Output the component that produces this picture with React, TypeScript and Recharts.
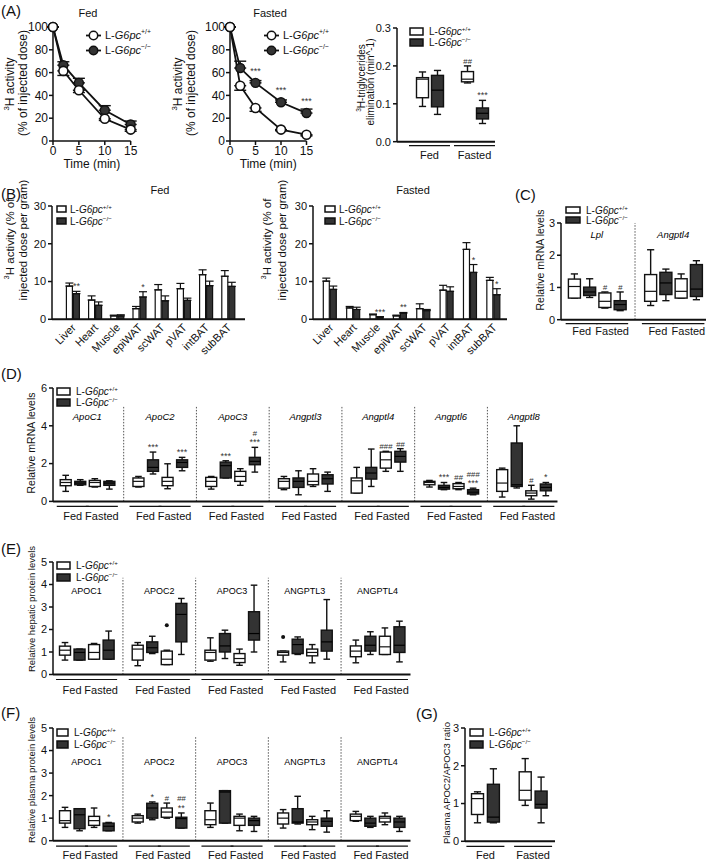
import React from 'react';
import {
  ComposedChart,
  LineChart,
  BarChart,
  Line,
  Bar,
  XAxis,
  YAxis,
  ErrorBar,
  ReferenceLine,
  ReferenceArea,
  LabelList,
} from 'recharts';

// min, q1, median, q3, max
type Box = [number, number, number, number, number];

const FONT = '"Liberation Sans", Arial, Helvetica, sans-serif';
const INK = '#111111';
const DARK = '#333333';

// ---------- (A) plasma clearance ----------
const timeMin = [0, 2, 5, 10, 15];
const fedWT = [100, 61.5, 44.5, 19.5, 10];
const fedWTErr = [0, 4, 2, 1.5, 1.5];
const fedKO = [100, 66.5, 51, 27, 14.5];
const fedKOErr = [0, 3, 4, 4, 3];
const fastedWT = [100, 48.5, 29, 10, 5.5];
const fastedWTErr = [0, 4, 3, 1, 1];
const fastedKO = [100, 64, 51, 34, 24.5];
const fastedKOErr = [0, 6, 2, 2, 3.5];
const fastedSig = ['', '', '***', '***', '***'];

// (A) elimination rate: Fed WT, Fed KO, Fasted WT, Fasted KO
const elimBoxes: Box[] = [
  [0.093, 0.116, 0.165, 0.169, 0.184],
  [0.072, 0.092, 0.136, 0.175, 0.188],
  [0.155, 0.158, 0.165, 0.185, 0.2],
  [0.048, 0.06, 0.075, 0.089, 0.109],
];
const elimSig = ['', '', '##', '***'];

// ---------- (B) tissue uptake ----------
const tissues = ['Liver', 'Heart', 'Muscle', 'epiWAT', 'scWAT', 'pVAT', 'intBAT', 'subBAT'];
const uptakeFedWT = [8.8, 5.1, 0.9, 2.8, 7.8, 8.1, 11.8, 11.4];
const uptakeFedWTErr = [0.8, 1.1, 0.2, 0.6, 1.4, 1.4, 1.3, 1.5];
const uptakeFedKO = [6.8, 3.7, 0.9, 5.9, 4.9, 5.0, 8.9, 8.7];
const uptakeFedKOErr = [0.6, 0.9, 0.3, 1.4, 1.3, 0.6, 1.2, 1.1];
const uptakeFedSig = ['**', '', '', '*', '', '', '', ''];
const uptakeFastedWT = [10.1, 3.0, 1.2, 0.9, 2.8, 7.7, 18.5, 10.3];
const uptakeFastedWTErr = [0.8, 0.4, 0.2, 0.2, 1.3, 1.3, 1.8, 0.8];
const uptakeFastedKO = [7.9, 2.6, 0.6, 1.6, 2.3, 7.4, 12.4, 6.5];
const uptakeFastedKOErr = [0.9, 0.6, 0.1, 0.2, 0.3, 1.2, 2.1, 1.6];
const uptakeFastedSig = ['', '', '***', '**', '', '', '*', '*'];

// ---------- (C) liver mRNA ----------
const liverGenes = ['Lpl', 'Angptl4'];
const liverLpl: Box[] = [
  [0.67, 0.67, 1.03, 1.26, 1.42],
  [0.69, 0.75, 0.86, 1.01, 1.27],
  [0.36, 0.38, 0.57, 0.83, 0.86],
  [0.28, 0.31, 0.47, 0.59, 0.86],
];
const liverAngptl4: Box[] = [
  [0.44, 0.57, 0.88, 1.4, 2.17],
  [0.59, 0.78, 1.14, 1.47, 1.57],
  [0.67, 0.67, 0.88, 1.27, 1.42],
  [0.62, 0.72, 0.95, 1.71, 1.83],
];
const liverSig = [['', '', '#', '#'], ['', '', '', '']];

// ---------- (D) hepatic mRNA ----------
const mrnaGenes = ['ApoC1', 'ApoC2', 'ApoC3', 'Angptl3', 'Angptl4', 'Angptl6', 'Angptl8'];
const mrnaApoC1: Box[] = [[0.53, 0.83, 1.0, 1.15, 1.38], [0.85, 0.88, 0.97, 1.06, 1.15], [0.76, 0.79, 1.0, 1.11, 1.2], [0.65, 0.85, 0.97, 1.06, 1.09]];
const mrnaApoC2: Box[] = [[0.76, 0.79, 1.06, 1.24, 1.32], [1.45, 1.59, 1.8, 2.2, 2.61], [0.67, 0.83, 1.06, 1.27, 1.99], [1.62, 1.8, 2.06, 2.2, 2.33]];
const mrnaApoC3: Box[] = [[0.65, 0.79, 1.06, 1.27, 1.32], [1.24, 1.24, 1.89, 2.08, 2.15], [0.85, 1.06, 1.32, 1.59, 1.73], [1.55, 1.94, 2.12, 2.33, 2.86]];
const mrnaAngptl3: Box[] = [[0.62, 0.7, 1.06, 1.2, 1.32], [0.35, 0.74, 1.06, 1.24, 1.62], [0.79, 0.88, 1.06, 1.45, 1.73], [0.53, 0.92, 1.2, 1.41, 1.55]];
const mrnaAngptl4: Box[] = [[0.44, 0.44, 1.09, 1.24, 1.8], [0.79, 1.18, 1.5, 1.8, 2.77], [1.59, 1.76, 2.2, 2.61, 2.65], [1.59, 2.08, 2.38, 2.65, 2.79]];
const mrnaAngptl6: Box[] = [[0.76, 0.88, 1.0, 1.06, 1.11], [0.62, 0.65, 0.74, 0.85, 1.0], [0.62, 0.67, 0.79, 0.94, 1.0], [0.35, 0.39, 0.49, 0.62, 0.7]];
const mrnaAngptl8: Box[] = [[0.23, 0.53, 0.97, 1.68, 1.76], [0.71, 0.79, 0.88, 3.09, 4.0], [0.12, 0.3, 0.44, 0.56, 0.85], [0.3, 0.56, 0.74, 0.92, 1.0]];
const mrnaSig = [
  ['', '', '', ''],
  ['', '***', '', '***'],
  ['', '***', '', '#|***'],
  ['', '', '', ''],
  ['', '', '###', '##'],
  ['', '***', '##', '###|***'],
  ['', '', '#', '*'],
];

// ---------- (E) hepatic protein ----------
const proteinGenes = ['APOC1', 'APOC2', 'APOC3', 'ANGPTL3', 'ANGPTL4'];
const hepAPOC1: Box[] = [[0.64, 0.86, 1.08, 1.26, 1.42], [0.64, 0.64, 0.98, 1.13, 1.13], [0.68, 0.68, 0.98, 1.33, 1.38], [0.68, 0.68, 1.08, 1.53, 1.93]];
const hepAPOC2: Box[] = [[0.39, 0.64, 1.13, 1.3, 1.42], [0.93, 0.98, 1.19, 1.45, 1.7], [0.44, 0.44, 0.68, 1.04, 1.08], [0.89, 1.45, 2.67, 3.16, 3.38]];
const hepAPOC3: Box[] = [[0.59, 0.64, 0.98, 1.08, 1.63], [0.71, 1.0, 1.27, 1.82, 1.97], [0.41, 0.53, 0.71, 0.93, 1.13], [1.0, 1.53, 1.82, 2.79, 3.97]];
const hepANGPTL3: Box[] = [[0.56, 0.86, 0.98, 1.04, 1.04], [0.89, 0.93, 1.33, 1.57, 1.67], [0.52, 0.83, 0.98, 1.13, 1.33], [0.68, 1.04, 1.45, 1.97, 3.33]];
const hepANGPTL4: Box[] = [[0.52, 0.79, 1.04, 1.27, 1.53], [0.89, 1.04, 1.3, 1.7, 1.9], [0.89, 0.89, 1.23, 1.7, 2.07], [0.56, 0.98, 1.3, 2.12, 2.37]];
const hepOutliers: (number | undefined)[][] = [[], [undefined, undefined, 2.19], [], [1.67], []];

// ---------- (F) plasma protein ----------
const plasmaAPOC1: Box[] = [[0.59, 0.78, 0.89, 1.33, 1.48], [0.44, 0.53, 1.15, 1.42, 1.42], [0.59, 0.68, 0.89, 1.08, 1.45], [0.44, 0.44, 0.64, 0.78, 0.81]];
const plasmaAPOC2: Box[] = [[0.78, 0.83, 1.0, 1.11, 1.18], [0.93, 1.0, 1.45, 1.66, 1.72], [1.0, 1.04, 1.27, 1.45, 1.67], [0.56, 0.56, 0.98, 1.04, 1.23]];
const plasmaAPOC3: Box[] = [[0.59, 0.71, 0.93, 1.33, 1.67], [0.78, 0.78, 2.16, 2.22, 2.22], [0.44, 0.68, 1.0, 1.08, 1.18], [0.41, 0.68, 0.89, 1.0, 1.08]];
const plasmaANGPTL3: Box[] = [[0.56, 0.74, 1.0, 1.23, 1.38], [0.74, 0.78, 0.83, 1.42, 1.97], [0.49, 0.71, 0.83, 0.93, 1.08], [0.38, 0.64, 0.86, 1.0, 1.33]];
const plasmaANGPTL4: Box[] = [[0.86, 0.89, 1.08, 1.18, 1.3], [0.59, 0.64, 0.78, 1.0, 1.08], [0.71, 0.83, 1.0, 1.08, 1.23], [0.41, 0.59, 0.83, 1.0, 1.08]];
const plasmaSig = [['', '', '', '*'], ['', '*', '#', '##|**'], ['', '', '', ''], ['', '', '', ''], ['', '', '', '']];

// ---------- (G) APOC2/APOC3 ratio ----------
const ratioBoxes: Box[] = [
  [0.49, 0.71, 1.13, 1.26, 1.31],
  [0.49, 0.51, 0.64, 1.51, 1.92],
  [0.95, 1.09, 1.35, 1.84, 2.19],
  [0.49, 0.88, 0.98, 1.33, 1.7],
];

// ---------------------------------------------------------------------------

interface BoxRow {
  key: string;
  box?: Box;
  ko?: boolean;
  cond?: string;
  sig?: string;
  out?: number;
}

const CONDS = ['Fed', 'Fed', 'Fasted', 'Fasted'];

function geneRows(genes: string[], boxes: Box[][], sigs?: string[][], outs?: (number | undefined)[][]): BoxRow[] {
  const rows: BoxRow[] = [];
  genes.forEach((g, gi) => {
    boxes[gi].forEach((b, j) => {
      rows.push({ key: `${g}:${j}`, box: b, ko: j % 2 === 1, cond: CONDS[j], sig: sigs?.[gi]?.[j] ?? '', out: outs?.[gi]?.[j] });
    });
    if (gi < genes.length - 1) rows.push({ key: `sep:${gi}` });
  });
  return rows;
}

function pairRows(boxes: Box[], sigs?: string[]): BoxRow[] {
  const rows: BoxRow[] = [];
  boxes.forEach((b, i) => {
    if (i === 2) rows.push({ key: 'sep' });
    rows.push({ key: `b${i}`, box: b, ko: i % 2 === 1, cond: CONDS[i], sig: sigs?.[i] ?? '' });
  });
  return rows;
}

const axisStroke = { stroke: INK, strokeWidth: 1.5 };
const tickFont = { fill: INK, fontSize: 11, fontFamily: FONT };

function BoxShape(props: any) {
  const { x, y, width, height, payload } = props;
  const b: Box | undefined = payload?.box;
  if (!b || !Number.isFinite(y) || !Number.isFinite(height)) return null;
  const top = Math.min(y, y + height);
  const bot = Math.max(y, y + height);
  const py = (v: number) => bot - ((v - b[0]) / (b[4] - b[0])) * (bot - top);
  const cx = x + width / 2;
  const cap = width * 0.3;
  return (
    <g>
      <line x1={cx} x2={cx} y1={py(b[4])} y2={py(b[0])} stroke={INK} strokeWidth={1.4} />
      <line x1={cx - cap} x2={cx + cap} y1={py(b[4])} y2={py(b[4])} stroke={INK} strokeWidth={1.4} />
      <line x1={cx - cap} x2={cx + cap} y1={py(b[0])} y2={py(b[0])} stroke={INK} strokeWidth={1.4} />
      <rect
        x={x}
        y={py(b[3])}
        width={width}
        height={Math.max(py(b[1]) - py(b[3]), 0.8)}
        fill={payload.ko ? DARK : '#fff'}
        stroke={INK}
        strokeWidth={1.4}
      />
      <line x1={x} x2={x + width} y1={py(b[2])} y2={py(b[2])} stroke={payload.ko ? '#000' : INK} strokeWidth={1.2} />
      {payload.out != null && <circle cx={cx} cy={py(payload.out)} r={2} fill={INK} />}
    </g>
  );
}

function sigText(x: number, baseY: number, value: string) {
  const lines = value.split('|');
  return (
    <g>
      {lines.map((s, i) => (
        <text
          key={i}
          x={x}
          y={baseY - (lines.length - 1 - i) * 9.5}
          textAnchor="middle"
          fontSize={s.startsWith('#') ? 8 : 9}
          fontStyle={s.startsWith('#') ? 'italic' : 'normal'}
          fontFamily={FONT}
          fill={DARK}
        >
          {s}
        </text>
      ))}
    </g>
  );
}

function BoxSig(props: any) {
  const vb = props.viewBox ?? props;
  const value = props.value;
  if (!value || typeof value !== 'string') return null;
  const x = vb.x ?? props.x;
  const y = vb.y ?? props.y;
  const w = vb.width ?? props.width;
  const h = vb.height ?? props.height;
  const top = Math.min(y, y + h);
  return sigText(x + w / 2, top - 2, value);
}

function GeneLabel(props: any) {
  const vb = props.viewBox;
  if (!vb) return null;
  return (
    <text
      x={vb.x + vb.width / 2}
      y={vb.y + vb.height / 2}
      dy="0.35em"
      textAnchor="middle"
      fontSize={props.size}
      fontStyle={props.italic ? 'italic' : 'normal'}
      fontFamily={FONT}
      fill="#000"
    >
      {props.text}
    </text>
  );
}

interface Plot {
  l: number;
  t: number;
  r: number;
  b: number;
}

interface BoxPanelProps {
  rows: BoxRow[];
  plot: Plot;
  domain: [number, number];
  ticks: number[];
  tickFmt?: (v: number) => string;
  pad: [number, number];
  barSize: number;
  half: number;
  lineDy: number;
  textDy: number;
  divider?: number;
  genes?: string[];
  geneY?: number;
  geneSize?: number;
  geneItalic?: boolean;
}

function BoxPanel(p: BoxPanelProps) {
  const YW = 36;
  const MT = 6;
  const MR = 3;
  const XH = 26;
  const W = p.plot.r - p.plot.l + YW + MR;
  const H = p.plot.b - p.plot.t + MT + XH;
  const band = (p.plot.r - p.plot.l - p.pad[0] - p.pad[1]) / p.rows.length;
  const seps = p.rows.filter((r) => !r.box);

  const condTick = (tp: any) => {
    const row = p.rows.find((r) => r.key === tp.payload?.value);
    if (!row || !row.box || row.ko) return <g />;
    const mid = tp.x + band / 2;
    return (
      <g>
        <line x1={mid - p.half} x2={mid + p.half} y1={tp.y + p.lineDy} y2={tp.y + p.lineDy} stroke={INK} strokeWidth={1.2} />
        <text x={mid} y={tp.y + p.textDy} textAnchor="middle" fontSize={11} fontFamily={FONT} fill={INK}>
          {row.cond}
        </text>
      </g>
    );
  };

  return (
    <div style={{ position: 'absolute', left: p.plot.l - YW, top: p.plot.t - MT }}>
      <ComposedChart width={W} height={H} data={p.rows} margin={{ top: MT, right: MR, bottom: 0, left: 0 }}>
        <XAxis
          dataKey="key"
          type="category"
          interval={0}
          height={XH}
          padding={{ left: p.pad[0], right: p.pad[1] }}
          tickLine={false}
          tickSize={0}
          tickMargin={0}
          axisLine={{ stroke: INK, strokeWidth: 2 }}
          tick={condTick}
        />
        <YAxis
          type="number"
          domain={p.domain}
          ticks={p.ticks}
          tickFormatter={p.tickFmt}
          width={YW}
          tick={tickFont}
          tickSize={4}
          tickMargin={2}
          axisLine={axisStroke}
          tickLine={axisStroke}
        />
        {p.divider != null &&
          seps.map((s) => (
            <ReferenceLine
              key={s.key}
              segment={[
                { x: s.key, y: 0 },
                { x: s.key, y: p.divider as number },
              ]}
              stroke="#555"
              strokeWidth={1}
              strokeDasharray="1.5 1.5"
            />
          ))}
        {p.genes?.map((g) => (
          <ReferenceArea
            key={g}
            x1={`${g}:0`}
            x2={`${g}:3`}
            y1={(p.geneY as number) - 0.02}
            y2={(p.geneY as number) + 0.02}
            fill="none"
            stroke="none"
            label={<GeneLabel text={g} size={p.geneSize ?? 9} italic={p.geneItalic} />}
          />
        ))}
        <Bar
          dataKey={(d: BoxRow) => (d.box ? [d.box[0], d.box[4]] : null)}
          barSize={p.barSize}
          shape={(sp: any) => <BoxShape {...sp} />}
          isAnimationActive={false}
        >
          <LabelList dataKey="sig" content={(lp: any) => <BoxSig {...lp} />} />
        </Bar>
      </ComposedChart>
    </div>
  );
}

function Clearance({ plot, yw, wt, wtErr, ko, koErr, sig }: any) {
  const MT = 8;
  const MR = 10;
  const XH = 40;
  const data = timeMin.map((t, i) => ({
    t,
    wt: wt[i],
    wtErr: [wtErr[i], 0],
    ko: ko[i],
    koErr: [0, koErr[i]],
    sig: sig ? sig[i] : '',
  }));
  return (
    <div style={{ position: 'absolute', left: plot.l - yw, top: plot.t - MT }}>
      <LineChart
        width={plot.r - plot.l + yw + MR}
        height={plot.b - plot.t + MT + XH}
        data={data}
        margin={{ top: MT, right: MR, bottom: 0, left: 0 }}
      >
        <XAxis
          dataKey="t"
          type="number"
          domain={[0, 15]}
          ticks={[0, 5, 10, 15]}
          height={XH}
          tick={{ ...tickFont, fontSize: 12 }}
          tickSize={4}
          tickMargin={1}
          axisLine={axisStroke}
          tickLine={axisStroke}
          label={{ value: 'Time (min)', position: 'insideBottom', offset: 13, fill: INK, fontSize: 12, fontFamily: FONT }}
        />
        <YAxis
          type="number"
          domain={[0, 100]}
          ticks={[0, 20, 40, 60, 80, 100]}
          width={yw}
          tick={{ ...tickFont, fontSize: 12 }}
          tickSize={4}
          tickMargin={1}
          axisLine={axisStroke}
          tickLine={axisStroke}
        />
        <Line
          dataKey="ko"
          stroke={INK}
          strokeWidth={1.8}
          dot={{ r: 4.5, fill: DARK, stroke: INK, strokeWidth: 1.4 }}
          isAnimationActive={false}
        >
          <ErrorBar dataKey="koErr" width={6} stroke={INK} strokeWidth={1.4} direction="y" />
          <LabelList
            dataKey="sig"
            content={(lp: any) => {
              if (!lp.value) return null;
              const x = lp.viewBox?.x ?? lp.x;
              const y = lp.viewBox?.y ?? lp.y;
              return sigText(x, y - 9, lp.value);
            }}
          />
        </Line>
        <Line
          dataKey="wt"
          stroke={INK}
          strokeWidth={1.8}
          dot={{ r: 4.5, fill: '#fff', stroke: INK, strokeWidth: 1.6 }}
          isAnimationActive={false}
        >
          <ErrorBar dataKey="wtErr" width={6} stroke={INK} strokeWidth={1.4} direction="y" />
        </Line>
      </LineChart>
    </div>
  );
}

function Uptake({ plot, pad, wt, wtErr, ko, koErr, sig }: any) {
  const YW = 30;
  const MT = 6;
  const MR = 4;
  const XH = 48;
  const data = tissues.map((t, i) => ({
    t,
    wt: wt[i],
    wtErr: [0, wtErr[i]],
    ko: ko[i],
    koErr: [0, koErr[i]],
    sig: sig[i],
  }));
  const rotTick = (tp: any) => {
    const x = tp.x + 4;
    const y = tp.y + 9;
    return (
      <text x={x} y={y} textAnchor="end" transform={`rotate(-45 ${x} ${y})`} fontSize={11} fontFamily={FONT} fill={INK}>
        {tp.payload?.value}
      </text>
    );
  };
  return (
    <div style={{ position: 'absolute', left: plot.l - YW, top: plot.t - MT }}>
      <BarChart
        width={plot.r - plot.l + YW + MR}
        height={plot.b - plot.t + MT + XH}
        data={data}
        margin={{ top: MT, right: MR, bottom: 0, left: 0 }}
        barSize={6}
        barGap={1}
      >
        <XAxis
          dataKey="t"
          type="category"
          interval={0}
          height={XH}
          padding={{ left: pad[0], right: pad[1] }}
          tickLine={false}
          tickSize={0}
          tickMargin={0}
          axisLine={{ stroke: INK, strokeWidth: 2 }}
          tick={rotTick}
        />
        <YAxis
          type="number"
          domain={[0, 30]}
          ticks={[0, 10, 20, 30]}
          width={YW}
          tick={tickFont}
          tickSize={4}
          tickMargin={2}
          axisLine={axisStroke}
          tickLine={axisStroke}
        />
        <Bar dataKey="wt" fill="#fff" stroke={INK} strokeWidth={1.2} isAnimationActive={false}>
          <ErrorBar dataKey="wtErr" width={4} stroke={INK} strokeWidth={1.2} direction="y" />
        </Bar>
        <Bar dataKey="ko" fill={DARK} stroke={INK} strokeWidth={1.2} isAnimationActive={false}>
          <ErrorBar dataKey="koErr" width={4} stroke={INK} strokeWidth={1.2} direction="y" />
          <LabelList
            dataKey="sig"
            content={(lp: any) => {
              if (!lp.value) return null;
              const row = data[lp.index];
              const vb = lp.viewBox ?? lp;
              const x = vb.x ?? lp.x;
              const y = vb.y ?? lp.y;
              const w = vb.width ?? lp.width;
              const h = vb.height ?? lp.height;
              const errPx = row && row.ko > 0 ? (row.koErr[1] / row.ko) * Math.abs(h) : 0;
              return sigText(x + w / 2, Math.min(y, y + h) - errPx - 2, lp.value);
            }}
          />
        </Bar>
      </BarChart>
    </div>
  );
}

// ---------- text overlays ----------
function Txt({ x, y, size = 11, children, italic }: any) {
  return (
    <div
      style={{
        position: 'absolute',
        left: x,
        top: y,
        transform: 'translate(-50%, -50%)',
        fontSize: size,
        whiteSpace: 'nowrap',
        lineHeight: 1,
        fontStyle: italic ? 'italic' : 'normal',
      }}
    >
      {children}
    </div>
  );
}

function VTxt({ x, y, size = 11, children }: any) {
  return (
    <div
      style={{
        position: 'absolute',
        left: x,
        top: y,
        transform: 'translate(-50%, -50%) rotate(-90deg)',
        fontSize: size,
        whiteSpace: 'nowrap',
        lineHeight: 1,
      }}
    >
      {children}
    </div>
  );
}

function Tag({ x, y, children }: any) {
  return <div style={{ position: 'absolute', left: x, top: y, fontSize: 15, lineHeight: 1 }}>{children}</div>;
}

function Geno({ ko }: { ko: boolean }) {
  return (
    <span>
      L-<i>G6pc</i>
      <sup style={{ fontSize: '0.62em', lineHeight: 0 }}>{ko ? '−/−' : '+/+'}</sup>
    </span>
  );
}

function BoxLegend({ x, y, gap = 12, w = 13, h = 7, textGap = 5, size = 10 }: any) {
  return (
    <div style={{ position: 'absolute', left: x, top: y, fontSize: size }}>
      {[false, true].map((ko) => (
        <div key={String(ko)} style={{ display: 'flex', alignItems: 'center', height: gap, whiteSpace: 'nowrap' }}>
          <svg width={w + 2} height={h + 2} style={{ marginRight: textGap, display: 'block' }}>
            <rect x={1} y={1} width={w} height={h} fill={ko ? DARK : '#fff'} stroke={INK} strokeWidth={1.5} />
          </svg>
          <Geno ko={ko} />
        </div>
      ))}
    </div>
  );
}

function LineLegend({ x, y, gap = 15, size = 11 }: any) {
  return (
    <div style={{ position: 'absolute', left: x, top: y, fontSize: size }}>
      {[false, true].map((ko) => (
        <div key={String(ko)} style={{ display: 'flex', alignItems: 'center', height: gap, whiteSpace: 'nowrap' }}>
          <svg width={15} height={11} style={{ marginRight: 4, display: 'block' }}>
            <line x1={0} x2={15} y1={5.5} y2={5.5} stroke={INK} strokeWidth={1.8} />
            <circle cx={7.5} cy={5.5} r={4.2} fill={ko ? DARK : '#fff'} stroke={INK} strokeWidth={1.5} />
          </svg>
          <Geno ko={ko} />
        </div>
      ))}
    </div>
  );
}

const sup3 = <sup style={{ fontSize: '0.65em', lineHeight: 0 }}>3</sup>;

export default function App() {
  return (
    <div
      style={{
        position: 'absolute',
        left: 0,
        top: 0,
        width: 709,
        height: 862,
        background: '#fff',
        fontFamily: FONT,
        color: INK,
        overflow: 'hidden',
      }}
    >
      {/* (A) */}
      <Clearance plot={{ l: 53.3, t: 27, r: 131, b: 141 }} yw={53} wt={fedWT} wtErr={fedWTErr} ko={fedKO} koErr={fedKOErr} />
      <Clearance
        plot={{ l: 229.5, t: 27, r: 306, b: 141 }}
        yw={40}
        wt={fastedWT}
        wtErr={fastedWTErr}
        ko={fastedKO}
        koErr={fastedKOErr}
        sig={fastedSig}
      />
      <BoxPanel
        rows={pairRows(elimBoxes, elimSig)}
        plot={{ l: 397, t: 28, r: 495, b: 141.7 }}
        domain={[0, 0.3]}
        ticks={[0, 0.1, 0.2, 0.3]}
        tickFmt={(v) => v.toFixed(1)}
        pad={[17.5, 5.5]}
        barSize={12}
        half={20.5}
        lineDy={4}
        textDy={17.5}
      />

      {/* (B) */}
      <Uptake
        plot={{ l: 52, t: 205.7, r: 245, b: 319 }}
        pad={[9.4, 6]}
        wt={uptakeFedWT}
        wtErr={uptakeFedWTErr}
        ko={uptakeFedKO}
        koErr={uptakeFedKOErr}
        sig={uptakeFedSig}
      />
      <Uptake
        plot={{ l: 313, t: 205.7, r: 507, b: 319 }}
        pad={[5.3, 1.8]}
        wt={uptakeFastedWT}
        wtErr={uptakeFastedWTErr}
        ko={uptakeFastedKO}
        koErr={uptakeFastedKOErr}
        sig={uptakeFastedSig}
      />

      {/* (C) */}
      <BoxPanel
        rows={geneRows(liverGenes, [liverLpl, liverAngptl4], liverSig)}
        plot={{ l: 561, t: 223.3, r: 706, b: 320 }}
        domain={[0, 3]}
        ticks={[0, 1, 2, 3]}
        pad={[5.4, 2.35]}
        barSize={12}
        half={16}
        lineDy={4}
        textDy={15.5}
        divider={3}
        genes={liverGenes}
        geneY={2.64}
        geneSize={9.5}
        geneItalic
      />

      {/* (D) */}
      <BoxPanel
        rows={geneRows(
          mrnaGenes,
          [mrnaApoC1, mrnaApoC2, mrnaApoC3, mrnaAngptl3, mrnaAngptl4, mrnaAngptl6, mrnaAngptl8],
          mrnaSig,
        )}
        plot={{ l: 52.5, t: 388.3, r: 557, b: 501.7 }}
        domain={[0, 6]}
        ticks={[0, 2, 4, 6]}
        pad={[5.2, 4.6]}
        barSize={11}
        half={16}
        lineDy={5}
        textDy={19}
        divider={5}
        genes={mrnaGenes}
        geneY={4.5}
        geneSize={9.5}
        geneItalic
      />

      {/* (E) */}
      <BoxPanel
        rows={geneRows(proteinGenes, [hepAPOC1, hepAPOC2, hepAPOC3, hepANGPTL3, hepANGPTL4], undefined, hepOutliers)}
        plot={{ l: 52.5, t: 561.8, r: 410, b: 674.3 }}
        domain={[0, 5]}
        ticks={[0, 1, 2, 3, 4, 5]}
        pad={[4.5, 4]}
        barSize={11}
        half={16}
        lineDy={5}
        textDy={19.5}
        divider={4.3}
        genes={proteinGenes}
        geneY={3.7}
        geneSize={9}
      />

      {/* (F) */}
      <BoxPanel
        rows={geneRows(proteinGenes, [plasmaAPOC1, plasmaAPOC2, plasmaAPOC3, plasmaANGPTL3, plasmaANGPTL4], plasmaSig)}
        plot={{ l: 52.5, t: 728.3, r: 410, b: 841 }}
        domain={[0, 5]}
        ticks={[0, 1, 2, 3, 4, 5]}
        pad={[4.5, 4]}
        barSize={11}
        half={16}
        lineDy={5.5}
        textDy={18.5}
        divider={4.6}
        genes={proteinGenes}
        geneY={3.5}
        geneSize={9}
      />

      {/* (G) */}
      <BoxPanel
        rows={pairRows(ratioBoxes)}
        plot={{ l: 465, t: 727.7, r: 555, b: 841 }}
        domain={[0, 3]}
        ticks={[0, 1, 2, 3]}
        pad={[4.5, 6]}
        barSize={12}
        half={19}
        lineDy={5}
        textDy={18}
      />

      {/* panel letters and titles */}
      <Tag x={1} y={3}>(A)</Tag>
      <Tag x={1} y={186}>(B)</Tag>
      <Tag x={515} y={187}>(C)</Tag>
      <Tag x={1} y={366}>(D)</Tag>
      <Tag x={1} y={541}>(E)</Tag>
      <Tag x={1} y={705}>(F)</Tag>
      <Tag x={416} y={706}>(G)</Tag>

      <Txt x={88} y={13}>Fed</Txt>
      <Txt x={270} y={13}>Fasted</Txt>
      <Txt x={160} y={190}>Fed</Txt>
      <Txt x={413} y={190}>Fasted</Txt>

      {/* axis titles */}
      <VTxt x={9.5} y={84} size={12}>{sup3}H activity</VTxt>
      <VTxt x={22.5} y={83} size={12}>(% of injected dose)</VTxt>
      <VTxt x={178} y={84} size={12}>{sup3}H activity</VTxt>
      <VTxt x={191} y={83} size={12}>(% of injected dose)</VTxt>
      <VTxt x={362} y={78} size={10}>{sup3}H-triglycerides</VTxt>
      <VTxt x={371} y={82} size={10}>elimination (min^-1)</VTxt>
      <VTxt x={11} y={239} size={11.5}>{sup3}H activity (% of</VTxt>
      <VTxt x={24} y={240} size={11.5}>injected dose per gram)</VTxt>
      <VTxt x={267.5} y={239} size={11.5}>{sup3}H activity (% of</VTxt>
      <VTxt x={282.5} y={240} size={11.5}>injected dose per gram)</VTxt>
      <VTxt x={540} y={260} size={10.5}>Relative mRNA levels</VTxt>
      <VTxt x={31} y={443} size={10.5}>Relative mRNA levels</VTxt>
      <VTxt x={32} y={609} size={9.5}>Relative hepatic protein levels</VTxt>
      <VTxt x={32} y={780} size={9.5}>Relative plasma protein levels</VTxt>
      <VTxt x={447} y={783} size={9.5}>Plasma APOC2/APOC3 ratio</VTxt>

      {/* legends */}
      <LineLegend x={86} y={27.5} />
      <LineLegend x={264} y={27.5} />
      <BoxLegend x={409} y={25.5} gap={11} />
      <BoxLegend x={56} y={203} gap={12} w={9} h={6} textGap={3} />
      <BoxLegend x={324} y={203} gap={12} w={10} h={6} textGap={3} />
      <BoxLegend x={565} y={205} gap={10} w={14} h={6} />
      <BoxLegend x={56} y={386} gap={11} />
      <BoxLegend x={56} y={559.5} gap={12} />
      <BoxLegend x={56} y={726} gap={12.5} w={11} />
      <BoxLegend x={469} y={726.5} gap={12} />
    </div>
  );
}
